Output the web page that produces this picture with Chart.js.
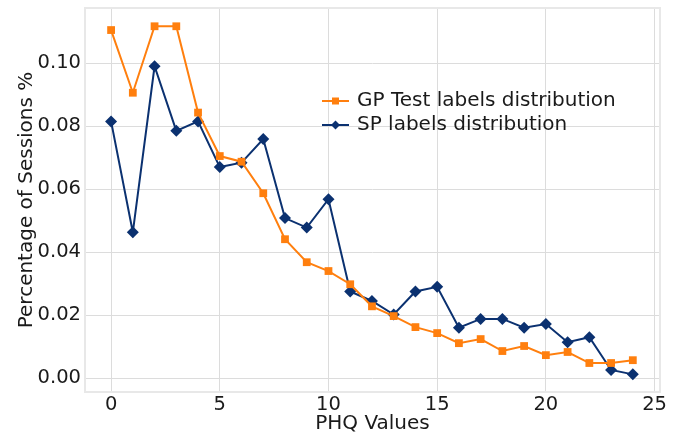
<!DOCTYPE html>
<html>
<head>
<meta charset="utf-8">
<script src="https://cdn.jsdelivr.net/npm/chart.js@4"></script>
<style>
  html, body { margin: 0; padding: 0; background: #fff; }
  #wrap { width: 679px; height: 434px; }
</style>
</head>
<body>
<div id="wrap"><canvas id="phqChart" width="679" height="434"></canvas></div>
<script>
// PHQ score on the x axis, share of sessions on the y axis
const phqValues = [0,1,2,3,4,5,6,7,8,9,10,11,12,13,14,15,16,17,18,19,20,21,22,23,24];
const gpTest = [0.1105,0.0906,0.1117,0.1117,0.0843,0.0705,0.0687,0.0587,0.0441,0.0368,0.0340,0.0298,0.0228,0.0197,0.0162,0.0143,0.0111,0.0124,0.0086,0.0102,0.0073,0.0083,0.0048,0.0048,0.0057];
const spLabels = [0.0815,0.0463,0.0990,0.0785,0.0815,0.0670,0.0684,0.0759,0.0508,0.0478,0.0568,0.0275,0.0245,0.0202,0.0275,0.0290,0.0160,0.0188,0.0188,0.0160,0.0172,0.0114,0.0130,0.0026,0.0012];

const FONT = "'DejaVu Sans', sans-serif";
const ORANGE = "#ff7f0e";
const NAVY = "#0b3170";

function toPoints(values) {
    return values.map((v, i) => ({ x: phqValues[i], y: v }));
}

// light frame round the plot like the seaborn style
const frame = {
    id: "frame",
    beforeDatasetsDraw(chart) {
        const a = chart.chartArea, c = chart.ctx;
        c.save();
        c.strokeStyle = "#e8e8e8";
        c.lineWidth = 2;
        c.strokeRect(a.left, a.top, a.right - a.left, a.bottom - a.top);
        c.restore();
    }
};

// legend drawn inside the plot, no box
const insideLegend = {
    id: "insideLegend",
    afterDraw(chart) {
        const c = chart.ctx;
        const x0 = 322, rows = [101, 125];
        c.save();
        chart.data.datasets.forEach((ds, i) => {
            const y = rows[i];
            c.strokeStyle = ds.borderColor;
            c.lineWidth = 2;
            c.beginPath();
            c.moveTo(x0, y);
            c.lineTo(x0 + 27, y);
            c.stroke();
            c.fillStyle = ds.backgroundColor;
            c.beginPath();
            if (ds.pointStyle === "rect") {
                c.rect(x0 + 13.5 - 3.5, y - 3.5, 7, 7);
            } else {
                c.moveTo(x0 + 13.5, y - 4.5);
                c.lineTo(x0 + 18, y);
                c.lineTo(x0 + 13.5, y + 4.5);
                c.lineTo(x0 + 9, y);
                c.closePath();
            }
            c.fill();
            c.fillStyle = "#1a1a1a";
            c.font = "20px " + FONT;
            c.textBaseline = "middle";
            c.textAlign = "left";
            c.fillText(ds.label, x0 + 35, y);
        });
        c.restore();
    }
};

new Chart(document.getElementById("phqChart").getContext("2d"), {
    type: "line",
    data: {
        datasets: [{
            label: "GP Test labels distribution",
            data: toPoints(gpTest),
            borderColor: ORANGE,
            backgroundColor: ORANGE,
            borderWidth: 2,
            pointStyle: "rect",
            pointRadius: 5.5,
            pointBorderWidth: 0,
            tension: 0
        }, {
            label: "SP labels distribution",
            data: toPoints(spLabels),
            borderColor: NAVY,
            backgroundColor: NAVY,
            borderWidth: 2,
            pointStyle: "rectRot",
            pointRadius: 6,
            pointBorderWidth: 0,
            tension: 0
        }]
    },
    options: {
        responsive: false,
        animation: false,
        layout: { padding: { top: 8, right: 19, bottom: 0, left: 15 } },
        scales: {
            x: {
                type: "linear",
                min: -1.2,
                max: 25.25,
                afterFit: s => { s.height = 42; s.paddingLeft = 0; s.paddingRight = 0; },
                grid: { color: "#dcdcdc", lineWidth: 1, drawTicks: false },
                border: { display: false },
                ticks: { stepSize: 5, includeBounds: false, padding: 1, color: "#1a1a1a", font: { family: FONT, size: 19.5 } },
                title: { display: true, text: "PHQ Values", color: "#1a1a1a", padding: { top: 0, bottom: -2 }, font: { family: FONT, size: 20 } }
            },
            y: {
                min: -0.0044,
                max: 0.1175,
                afterFit: s => { s.width = 70; s.paddingTop = 0; s.paddingBottom = 0; },
                grid: { color: "#dcdcdc", lineWidth: 1, drawTicks: false },
                border: { display: false },
                ticks: { stepSize: 0.02, includeBounds: false, padding: 4, color: "#1a1a1a", font: { family: FONT, size: 19.5 },
                         callback: v => v.toFixed(2) },
                title: { display: true, text: "Percentage of Sessions %", color: "#1a1a1a", padding: 0, font: { family: FONT, size: 20 } }
            }
        },
        plugins: {
            legend: { display: false },
            tooltip: { enabled: false }
        }
    },
    plugins: [frame, insideLegend]
});
</script>
</body>
</html>
